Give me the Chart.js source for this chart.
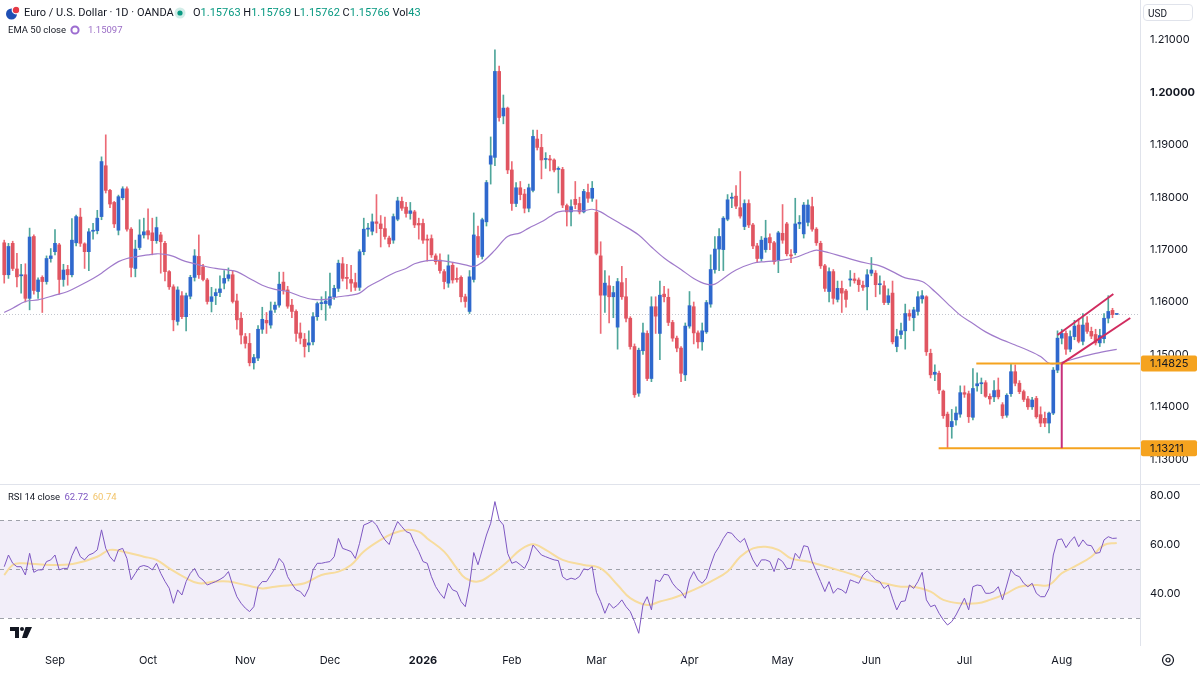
<!DOCTYPE html>
<html>
<head>
<meta charset="utf-8">
<title>Euro / U.S. Dollar · 1D · OANDA</title>
<script src="https://cdn.jsdelivr.net/npm/chart.js@4.4.1/dist/chart.umd.min.js"></script>
<style>
  html, body { margin: 0; padding: 0; background: #fff; }
  #frame { position: relative; width: 1200px; height: 675px; overflow: hidden; font-family: Roboto, "Noto Sans", sans-serif; color: #131722; }
  canvas { position: absolute; left: 0; }
  #priceCanvas { top: 0; }
  #rsiCanvas { top: 485px; }
  #divider { position: absolute; left: 0; top: 484px; width: 1200px; height: 1px; background: #e0e3eb; }
  .lbl { position: absolute; white-space: nowrap; font-size: 11px; line-height: 14px; }
  .small { font-size: 9.5px; }
  .k { color: #131722; }
  .v { color: #089981; }
  #usd { position: absolute; left: 1143px; top: 4px; width: 50px; height: 17px; border: 1px solid #e0e3eb; border-radius: 4px; font-size: 10px; line-height: 17px; padding-left: 4px; box-sizing: border-box; }
</style>
</head>
<body>
<div id="frame">
  <canvas id="priceCanvas" width="1200" height="484"></canvas>
  <canvas id="rsiCanvas" width="1200" height="190"></canvas>
  <div id="divider"></div>

  <svg style="position:absolute;left:5px;top:5px" width="16" height="16" viewBox="0 0 16 16">
    <circle cx="6.5" cy="9" r="5.5" fill="#1f4fb4"/>
    <circle cx="11" cy="5" r="3.8" fill="#e53945" stroke="#fff" stroke-width="1.2"/>
  </svg>
  <div class="lbl" style="left:24px;top:6px;">Euro / U.S. Dollar · 1D · OANDA</div>
  <svg style="position:absolute;left:174px;top:7px" width="12" height="12" viewBox="0 0 12 12">
    <circle cx="6" cy="6" r="5.5" fill="rgba(8,153,129,0.18)"/>
    <circle cx="6" cy="6" r="2.6" fill="#089981"/>
  </svg>
  <div class="lbl" style="left:193px;top:6px;"><span class="k">O</span><span class="v">1.15763</span> <span class="k">H</span><span class="v">1.15769</span> <span class="k">L</span><span class="v">1.15762</span> <span class="k">C</span><span class="v">1.15766</span> <span class="k">Vol</span><span class="v">43</span></div>
  <div class="lbl small" style="left:8px;top:23px;">EMA 50 close</div>
  <svg style="position:absolute;left:69px;top:24px" width="12" height="12" viewBox="0 0 12 12">
    <circle cx="6" cy="6" r="3.6" fill="none" stroke="#9c6cd0" stroke-width="2"/>
  </svg>
  <div class="lbl small" style="left:88px;top:23px;color:#9b6dc6;">1.15097</div>
  <div id="usd">USD</div>

  <div class="lbl small" style="left:8px;top:490px;">RSI 14 close <span style="color:#7e57c2;margin-left:2px;">62.72</span> <span style="color:#f2c46a;margin-left:2px;">60.74</span></div>

  <svg style="position:absolute;left:10px;top:627px" width="22" height="12" viewBox="0 0 22 12">
    <path d="M0 0h9v11H5V4H0z" fill="#131722"/>
    <circle cx="12" cy="2" r="2" fill="#131722"/>
    <path d="M15.5 0H22L17 11h-5z" fill="#131722"/>
  </svg>
  <svg style="position:absolute;left:1161px;top:653px" width="14" height="14" viewBox="0 0 14 14">
    <circle cx="7" cy="7" r="5.5" fill="none" stroke="#131722" stroke-width="1.2"/>
    <circle cx="7" cy="7" r="2" fill="none" stroke="#131722" stroke-width="1.2"/>
  </svg>
</div>

<script>
// EUR/USD daily candles, Aug 2025 - Aug 2026 (index 0 = first visible bar)
const opens = [
  1.1713,1.1652,1.1712,1.1663,1.1650,1.1652,1.1607,1.1725,1.1620,1.1647,
  1.1639,1.1683,1.1696,1.1709,1.1643,1.1662,1.1652,1.1713,1.1762,1.1711,
  1.1696,1.1735,1.1736,1.1763,1.1860,1.1813,1.1790,1.1737,1.1799,1.1816,
  1.1739,1.1664,1.1704,1.1728,1.1736,1.1732,1.1717,1.1728,1.1712,1.1658,
  1.1629,1.1563,1.1612,1.1572,1.1611,1.1647,1.1687,1.1667,1.1642,1.1601,
  1.1612,1.1618,1.1636,1.1645,1.1652,1.1602,1.1569,1.1534,1.1521,1.1484,
  1.1493,1.1548,1.1565,1.1556,1.1586,1.1594,1.1638,1.1623,1.1594,1.1582,
  1.1541,1.1529,1.1518,1.1524,1.1572,1.1597,1.1597,1.1594,1.1610,1.1626,
  1.1673,1.1647,1.1643,1.1637,1.1628,1.1696,1.1739,1.1735,1.1753,1.1749,
  1.1740,1.1722,1.1718,1.1758,1.1792,1.1781,1.1769,1.1772,1.1750,1.1750,
  1.1720,1.1721,1.1688,1.1680,1.1658,1.1636,1.1670,1.1645,1.1647,1.1610,
  1.1582,1.1643,1.1725,1.1687,1.1753,1.1863,1.1876,1.2040,1.1955,1.1970,
  1.1852,1.1788,1.1818,1.1806,1.1779,1.1813,1.1911,1.1895,1.1872,1.1873,
  1.1871,1.1853,1.1853,1.1784,1.1772,1.1796,1.1788,1.1772,1.1809,1.1798,
  1.1771,1.1688,1.1613,1.1631,1.1610,1.1552,1.1637,1.1610,1.1569,1.1515,
  1.1426,1.1507,1.1540,1.1454,1.1591,1.1540,1.1615,1.1609,1.1561,1.1531,
  1.1512,1.1461,1.1554,1.1591,1.1541,1.1524,1.1543,1.1596,1.1662,1.1701,
  1.1700,1.1758,1.1798,1.1802,1.1780,1.1744,1.1788,1.1747,1.1707,1.1683,
  1.1700,1.1723,1.1713,1.1680,1.1731,1.1749,1.1690,1.1694,1.1749,1.1730,
  1.1752,1.1782,1.1739,1.1712,1.1669,1.1620,1.1658,1.1605,1.1626,1.1621,
  1.1642,1.1644,1.1642,1.1632,1.1629,1.1655,1.1655,1.1633,1.1631,1.1599,
  1.1617,1.1515,1.1538,1.1545,1.1578,1.1570,1.1582,1.1606,1.1610,1.1502,
  1.1462,1.1464,1.1430,1.1386,1.1362,1.1375,1.1386,1.1427,1.1425,1.1380,
  1.1440,1.1444,1.1446,1.1420,1.1419,1.1432,1.1404,1.1384,1.1425,1.1467,
  1.1445,1.1429,1.1415,1.1400,1.1416,1.1385,1.1378,1.1369,1.1388,1.1470,
  1.1531,1.1540,1.1510,1.1534,1.1556,1.1525,1.1560,1.1544,1.1538,1.1522,
  1.1530,1.1569,1.1584,1.15763
];
const highs = [
  1.1718,1.1712,1.1716,1.1693,1.1672,1.1673,1.1741,1.1728,1.1646,1.1650,
  1.1688,1.1702,1.1738,1.1712,1.1672,1.1670,1.1759,1.1766,1.1779,1.1713,
  1.1740,1.1750,1.1775,1.1877,1.1919,1.1815,1.1792,1.1804,1.1820,1.1820,
  1.1742,1.1718,1.1757,1.1760,1.1778,1.1760,1.1762,1.1733,1.1716,1.1660,
  1.1633,1.1629,1.1620,1.1617,1.1651,1.1700,1.1728,1.1672,1.1645,1.1628,
  1.1625,1.1650,1.1660,1.1665,1.1660,1.1615,1.1580,1.1540,1.1540,1.1500,
  1.1555,1.1590,1.1580,1.1600,1.1600,1.1657,1.1657,1.1630,1.1605,1.1585,
  1.1560,1.1540,1.1545,1.1580,1.1600,1.1610,1.1620,1.1655,1.1632,1.1680,
  1.1685,1.1672,1.1670,1.1655,1.1700,1.1760,1.1750,1.1768,1.1805,1.1765,
  1.1762,1.1726,1.1768,1.1800,1.1800,1.1790,1.1790,1.1775,1.1760,1.1758,
  1.1728,1.1728,1.1692,1.1692,1.1662,1.1690,1.1675,1.1665,1.1650,1.1615,
  1.1660,1.1770,1.1745,1.1760,1.1832,1.1915,1.2081,1.2050,1.1995,1.1972,
  1.1868,1.1828,1.1830,1.1815,1.1825,1.1928,1.1928,1.1920,1.1885,1.1880,
  1.1873,1.1858,1.1857,1.1787,1.1795,1.1830,1.1800,1.1815,1.1825,1.1830,
  1.1795,1.1715,1.1660,1.1650,1.1630,1.1645,1.1668,1.1645,1.1572,1.1520,
  1.1512,1.1560,1.1545,1.1610,1.1610,1.1640,1.1630,1.1625,1.1565,1.1535,
  1.1515,1.1560,1.1620,1.1600,1.1545,1.1560,1.1603,1.1690,1.1725,1.1740,
  1.1763,1.1805,1.1808,1.1822,1.1849,1.1795,1.1795,1.1750,1.1712,1.1725,
  1.1756,1.1730,1.1716,1.1735,1.1786,1.1752,1.1700,1.1798,1.1765,1.1790,
  1.1795,1.1800,1.1742,1.1716,1.1672,1.1665,1.1662,1.1640,1.1640,1.1624,
  1.1660,1.1655,1.1646,1.1640,1.1662,1.1685,1.1660,1.1650,1.1640,1.1625,
  1.1640,1.1548,1.1560,1.1596,1.1585,1.1590,1.1620,1.1622,1.1612,1.1510,
  1.1480,1.1468,1.1432,1.1390,1.1395,1.1400,1.1440,1.1440,1.1430,1.1473,
  1.1465,1.1455,1.1450,1.1425,1.1450,1.1455,1.1408,1.1425,1.14825,1.1480,
  1.1450,1.1432,1.1420,1.1418,1.1420,1.1400,1.1390,1.1390,1.1475,1.1545,
  1.1548,1.1545,1.1545,1.1565,1.1568,1.1578,1.1572,1.1552,1.1548,1.1548,
  1.1578,1.1612,1.1588,1.15769
];
const lows = [
  1.1636,1.1645,1.1660,1.1629,1.1617,1.1600,1.1585,1.1615,1.1607,1.1580,
  1.1634,1.1676,1.1690,1.1615,1.1630,1.1632,1.1648,1.1707,1.1706,1.1664,
  1.1660,1.1720,1.1730,1.1757,1.1808,1.1780,1.1742,1.1728,1.1795,1.1735,
  1.1648,1.1648,1.1700,1.1722,1.1720,1.1690,1.1712,1.1655,1.1640,1.1624,
  1.1545,1.1556,1.1568,1.1545,1.1606,1.1640,1.1645,1.1640,1.1596,1.1581,
  1.1595,1.1610,1.1625,1.1640,1.1598,1.1548,1.1520,1.1512,1.1478,1.1472,
  1.1488,1.1540,1.1540,1.1550,1.1580,1.1590,1.1615,1.1588,1.1570,1.1525,
  1.1520,1.1495,1.1505,1.1518,1.1565,1.1585,1.1565,1.1588,1.1605,1.1620,
  1.1640,1.1625,1.1620,1.1622,1.1622,1.1690,1.1725,1.1728,1.1732,1.1705,
  1.1720,1.1705,1.1712,1.1755,1.1775,1.1762,1.1758,1.1742,1.1720,1.1712,
  1.1678,1.1685,1.1672,1.1655,1.1625,1.1628,1.1636,1.1638,1.1600,1.1590,
  1.1578,1.1638,1.1685,1.1682,1.1745,1.1825,1.1860,1.1945,1.1940,1.1845,
  1.1775,1.1782,1.1795,1.1770,1.1772,1.1810,1.1890,1.1835,1.1855,1.1850,
  1.1848,1.1808,1.1780,1.1745,1.1745,1.1778,1.1768,1.1770,1.1790,1.1792,
  1.1690,1.1540,1.1580,1.1560,1.1570,1.1510,1.1605,1.1562,1.1510,1.1418,
  1.1420,1.1500,1.1450,1.1448,1.1540,1.1490,1.1600,1.1555,1.1525,1.1505,
  1.1448,1.1450,1.1550,1.1520,1.1512,1.1508,1.1540,1.1590,1.1655,1.1660,
  1.1660,1.1755,1.1780,1.1778,1.1760,1.1738,1.1742,1.1702,1.1675,1.1678,
  1.1695,1.1700,1.1672,1.1656,1.1712,1.1688,1.1675,1.1690,1.1740,1.1722,
  1.1745,1.1735,1.1708,1.1664,1.1620,1.1600,1.1596,1.1600,1.1580,1.1590,
  1.1630,1.1636,1.1620,1.1622,1.1585,1.1650,1.1610,1.1615,1.1595,1.1595,
  1.1520,1.1505,1.1530,1.1510,1.1565,1.1545,1.1575,1.1598,1.1498,1.1455,
  1.1450,1.1425,1.1378,1.13211,1.1340,1.1365,1.1380,1.1418,1.1370,1.1375,
  1.1430,1.1425,1.1418,1.1405,1.1410,1.1415,1.1378,1.1380,1.1420,1.1440,
  1.1425,1.1410,1.1395,1.1395,1.1378,1.1362,1.1362,1.1350,1.1385,1.1465,
  1.1520,1.1500,1.1505,1.1528,1.1522,1.1518,1.1540,1.1530,1.1518,1.1515,
  1.1522,1.1560,1.1570,1.15762
];
const closes = [
  1.1652,1.1706,1.1664,1.1648,1.1652,1.1607,1.1724,1.1622,1.1642,1.1639,
  1.1683,1.1688,1.1712,1.1643,1.1661,1.1652,1.1718,1.1763,1.1712,1.1696,
  1.1734,1.1737,1.1760,1.1868,1.1813,1.1787,1.1749,1.1801,1.1816,1.1739,
  1.1666,1.1701,1.1728,1.1734,1.1728,1.1717,1.1742,1.1715,1.1658,1.1629,
  1.1566,1.1623,1.1572,1.1612,1.1647,1.1688,1.1652,1.1643,1.1601,1.1610,
  1.1618,1.1625,1.1645,1.1652,1.1601,1.1566,1.1537,1.1521,1.1484,1.1494,
  1.1548,1.1567,1.1560,1.1583,1.1594,1.1634,1.1623,1.1592,1.1582,1.1540,
  1.1531,1.1515,1.1522,1.1572,1.1597,1.1599,1.1602,1.1610,1.1626,1.1674,
  1.1645,1.1645,1.1636,1.1628,1.1696,1.1739,1.1741,1.1753,1.1750,1.1740,
  1.1725,1.1711,1.1763,1.1793,1.1779,1.1769,1.1774,1.1747,1.1747,1.1718,
  1.1718,1.1690,1.1677,1.1660,1.1639,1.1669,1.1642,1.1643,1.1610,1.1601,
  1.1648,1.1728,1.1690,1.1757,1.1828,1.1879,1.2040,1.1952,1.1970,1.1852,
  1.1788,1.1818,1.1805,1.1779,1.1818,1.1916,1.1895,1.1871,1.1873,1.1871,
  1.1852,1.1854,1.1785,1.1772,1.1782,1.1786,1.1772,1.1811,1.1798,1.1817,
  1.1693,1.1613,1.1636,1.1610,1.1618,1.1639,1.1610,1.1569,1.1515,1.1423,
  1.1508,1.1541,1.1454,1.1591,1.1573,1.1613,1.1610,1.1561,1.1531,1.1512,
  1.1464,1.1554,1.1593,1.1541,1.1524,1.1545,1.1599,1.1662,1.1701,1.1725,
  1.1760,1.1795,1.1800,1.1783,1.1764,1.1788,1.1747,1.1707,1.1683,1.1718,
  1.1722,1.1713,1.1677,1.1732,1.1718,1.1692,1.1688,1.1749,1.1752,1.1785,
  1.1785,1.1739,1.1713,1.1669,1.1626,1.1658,1.1607,1.1626,1.1617,1.1605,
  1.1644,1.1641,1.1633,1.1628,1.1652,1.1661,1.1633,1.1634,1.1599,1.1612,
  1.1524,1.1534,1.1545,1.1578,1.1573,1.1585,1.1610,1.1612,1.1505,1.1461,
  1.1466,1.1432,1.1383,1.1362,1.1372,1.1388,1.1427,1.1424,1.1381,1.1435,
  1.1444,1.1446,1.1420,1.1415,1.1431,1.1419,1.1383,1.1422,1.1467,1.1445,
  1.1429,1.1414,1.1400,1.1413,1.1381,1.1369,1.1369,1.1388,1.1470,1.1531,
  1.1540,1.1510,1.1534,1.1554,1.1525,1.1556,1.1544,1.1535,1.1522,1.1536,
  1.1569,1.1582,1.1576,1.15766
];

// EMA 50 at sample bars
const emaIdx = [0,2,5,8,12,15,18,21,23,25,27,29,31,34,36,38,40,42,44,46,
  50,53,55,58,61,64,67,70,73,76,79,82,84,86,89,92,95,97,100,103,
  105,109,111,113,116,119,122,124,127,129,131,134,137,139,141,143,146,150,153,156,
  160,163,166,168,170,173,177,180,184,187,190,192,195,198,201,204,207,210,213,217,
  220,223,226,229,232,235,239,242,245,247,249,251,254,258,263];
const emaVal = [1.1580,1.1588,1.1601,1.1604,1.1613,1.1620,1.1632,1.1645,1.1655,1.1667,
  1.1677,1.1683,1.1686,1.1690,1.1692,1.1691,1.1687,1.1680,1.1675,1.1671,
  1.1664,1.1661,1.1658,1.1645,1.1632,1.1624,1.1620,1.1611,1.1605,1.1605,
  1.1610,1.1613,1.1617,1.1629,1.1642,1.1655,1.1664,1.1673,1.1679,1.1679,
  1.1677,1.1671,1.1668,1.1676,1.1699,1.1725,1.1732,1.1741,1.1753,1.1763,
  1.1772,1.1774,1.1774,1.1777,1.1772,1.1762,1.1748,1.1728,1.1705,1.1684,
  1.1662,1.1645,1.1634,1.1634,1.1645,1.1661,1.1674,1.1677,1.1680,1.1685,
  1.1694,1.1699,1.1694,1.1687,1.1680,1.1674,1.1669,1.1658,1.1646,1.1639,
  1.1620,1.1597,1.1575,1.1559,1.1543,1.1531,1.1518,1.1508,1.1496,1.1483,
  1.1483,1.1487,1.1494,1.1502,1.15097];

// RSI 14, one value per bar
const rsiValues = [
  51.0,55.8,52.4,51.0,51.0,47.6,56.5,48.7,49.7,49.7,
  53.1,53.8,55.8,49.7,50.3,50.3,55.5,59.2,55.1,53.8,
  55.8,56.5,57.9,66.1,58.5,55.1,53.1,57.9,58.5,54.4,
  45.6,48.3,51.0,51.5,51.0,49.7,52.4,48.3,45.0,42.2,
  36.0,41.5,39.4,44.9,48.3,50.3,46.9,45.5,43.5,44.2,
  44.9,45.8,46.9,49.0,43.5,38.7,36.0,34.0,32.6,34.6,
  42.8,44.9,44.9,47.6,50.3,54.4,52.4,46.9,44.0,41.5,
  40.8,38.7,42.2,49.7,52.4,52.4,52.8,53.1,55.1,62.6,
  58.5,57.9,57.2,54.4,60.6,68.1,68.8,69.8,68.1,64.7,
  62.0,60.1,65.4,69.5,67.4,65.4,64.7,60.6,57.2,53.1,
  52.4,46.9,42.8,40.1,38.0,44.2,41.5,40.8,36.7,34.6,
  43.5,56.8,51.8,57.9,64.0,68.8,77.7,70.2,68.1,56.5,
  52.4,53.1,51.8,50.3,53.8,59.9,57.9,55.8,55.1,54.4,
  53.8,53.5,46.9,45.6,46.3,45.8,47.0,50.1,49.7,51.0,
  40.5,36.7,31.9,36.0,34.0,35.3,37.4,34.6,32.6,28.5,
  23.7,35.3,38.7,33.3,45.6,44.9,47.9,47.6,44.2,42.1,
  40.8,38.1,45.6,49.0,45.6,44.2,46.3,51.7,56.5,59.2,
  62.6,65.1,64.7,62.6,61.0,62.6,57.9,53.8,51.0,53.8,
  53.8,53.1,49.0,54.4,53.1,50.3,50.3,56.5,54.4,59.6,
  59.2,53.1,49.0,44.9,40.8,44.9,40.1,42.1,41.5,40.1,
  45.6,44.9,44.2,47.6,49.3,47.6,45.6,44.9,42.1,43.5,
  38.1,33.3,36.7,37.0,43.5,42.1,44.9,48.7,37.4,34.6,
  35.3,31.9,29.2,27.1,28.5,31.2,34.6,38.1,33.3,42.8,
  43.5,43.2,40.1,40.1,40.8,42.8,37.4,43.5,49.7,47.6,
  46.9,44.2,42.8,44.2,40.1,38.7,38.7,42.1,55.8,62.0,
  62.4,58.8,61.3,63.3,59.2,62.0,59.9,59.6,56.5,56.8,
  62.0,63.3,62.6,62.72
];

// RSI-based moving average read at sample bars
const maIdx = [0,2,4,8,13,17,22,25,28,33,36,39,43,46,50,53,57,61,64,68,
  71,75,79,82,85,89,92,95,98,100,104,107,109,112,115,119,122,125,128,132,
  137,141,145,148,152,155,159,163,167,171,174,177,180,183,186,190,193,197,201,204,
  208,212,215,219,222,226,230,233,237,240,244,247,250,253,257,260,263];
const maVal = [47.6,51.7,52.4,52.0,51.7,52.4,55.1,57.9,57.2,55.1,
  53.8,50.3,46.3,44.2,44.9,44.9,43.5,42.1,42.8,43.5,
  44.2,47.6,49.0,51.7,57.2,62.0,64.7,66.1,65.4,62.6,
  57.2,50.3,46.3,44.9,47.6,53.1,57.9,60.2,57.9,53.8,
  51.7,50.3,43.5,38.1,35.3,36.7,38.7,41.5,44.9,49.0,
  55.1,58.5,59.2,57.9,54.4,53.1,51.7,49.7,47.6,45.6,
  44.2,42.8,42.8,40.8,37.4,36.0,36.0,37.4,40.1,42.8,
  43.5,43.5,48.3,51.0,55.1,59.9,60.74];

// month labels on the time axis and the bar where each month starts
const monthNames = ['Sep','Oct','Nov','Dec','2026','Feb','Mar','Apr','May','Jun','Jul','Aug'];
const monthIdx = [12,34,57,77,99,120,140,162,184,205,227,250];

const priceTicks = [1.13,1.14,1.15,1.16,1.17,1.18,1.19,1.20,1.21];
const rsiTicks = [40,60,80];
const rsiBands = [70,50,30];

// drawn levels and trend lines (bar index, price)
const levelValues = [1.14825, 1.13211];
const levelStarts = [229.8, 220.9];
const channelUpper = [[249, 1.1537], [262.2, 1.16153]];
const channelLower = [[250, 1.14825], [266.2, 1.15695]];
const measureLine = [[250, 1.13211], [250, 1.14825]];

const X_MIN = -1, X_MAX = 268.5;
const UP = '#2f68cd', DOWN = '#e05561', UP_WICK = '#4fa69b', DOWN_WICK = '#ec6a75';
const ORANGE = '#f5a31f', CHANNEL = '#d12c5f', EMA_COLOR = '#a07bcb';
const FONT = 'Inter, "Noto Sans", sans-serif';
const TEXT = '#131722';

const isUp = i => closes[i] >= opens[i];
const pts = arr => arr.map(p => ({ x: p[0], y: p[1] }));

function fitRightAxis(scale) {
  scale.width = 60;
  scale.paddingTop = 0;
  scale.paddingBottom = 0;
}

const priceExtras = {
  id: 'priceExtras',
  beforeDatasetsDraw(chart) {
    const { ctx, chartArea } = chart;
    const y = Math.round(chart.scales.y.getPixelForValue(closes[closes.length - 1])) + 0.5;
    ctx.save();
    ctx.strokeStyle = '#c3c6ce';
    ctx.lineWidth = 1;
    ctx.setLineDash([1, 2]);
    ctx.beginPath();
    ctx.moveTo(chartArea.left, y);
    ctx.lineTo(chartArea.right, y);
    ctx.stroke();
    ctx.restore();
  },
  afterDraw(chart) {
    const { ctx, chartArea } = chart;
    ctx.save();
    levelValues.forEach(v => {
      const y = chart.scales.y.getPixelForValue(v);
      ctx.fillStyle = ORANGE;
      ctx.beginPath();
      ctx.roundRect(chartArea.right + 1, y - 8, 56, 16, 2);
      ctx.fill();
      ctx.fillStyle = TEXT;
      ctx.font = '11px ' + FONT;
      ctx.textBaseline = 'middle';
      ctx.fillText(v.toFixed(5), chartArea.right + 10, y + 0.5);
    });
    ctx.restore();
  }
};

new Chart(document.getElementById('priceCanvas'), {
  type: 'bar',
  data: {
    datasets: [
      { type: 'line', data: pts(channelUpper), borderColor: CHANNEL, borderWidth: 2, pointRadius: 0, order: 0 },
      { type: 'line', data: pts(channelLower), borderColor: CHANNEL, borderWidth: 2, pointRadius: 0, order: 0 },
      { type: 'line', data: pts(measureLine), borderColor: '#c8307a', borderWidth: 2, pointRadius: 0, order: 0 },
      ...levelValues.map((v, k) => ({
        type: 'line', data: [{ x: levelStarts[k], y: v }, { x: X_MAX, y: v }],
        borderColor: ORANGE, borderWidth: 2, pointRadius: 0, order: 0
      })),
      { type: 'line', data: emaIdx.map((x, k) => ({ x, y: emaVal[k] })), borderColor: EMA_COLOR,
        borderWidth: 1.2, pointRadius: 0, tension: 0.35, order: 1 },
      { type: 'bar', data: closes.map((c, i) => ({ x: i, y: [opens[i], c] })),
        backgroundColor: c => isUp(c.dataIndex) ? UP : DOWN,
        barThickness: 3, minBarLength: 1, grouped: false, borderWidth: 0, order: 2 },
      { type: 'bar', data: closes.map((c, i) => ({ x: i, y: [lows[i], highs[i]] })),
        backgroundColor: c => isUp(c.dataIndex) ? UP_WICK : DOWN_WICK,
        barThickness: 1, grouped: false, borderWidth: 0, order: 3 }
    ]
  },
  options: {
    responsive: false,
    animation: false,
    layout: { padding: 0 },
    plugins: { legend: { display: false }, tooltip: { enabled: false } },
    scales: {
      x: { type: 'linear', min: X_MIN, max: X_MAX, offset: false, display: false },
      y: {
        position: 'right', min: 1.12527, max: 1.21763,
        afterBuildTicks: a => { a.ticks = priceTicks.map(v => ({ value: v })); },
        afterFit: fitRightAxis,
        grid: { display: false, drawTicks: false },
        border: { color: '#e0e3eb' },
        ticks: {
          padding: 10, color: TEXT,
          font: c => ({ family: FONT, size: 11, weight: (c.tick && Math.abs(c.tick.value - 1.2) < 1e-9) ? 'bold' : 'normal' }),
          callback: v => v.toFixed(5)
        }
      }
    }
  },
  plugins: [priceExtras]
});

const rsiBand = {
  id: 'rsiBand',
  beforeDatasetsDraw(chart) {
    const { ctx, chartArea } = chart;
    const y = chart.scales.y;
    const top = y.getPixelForValue(rsiBands[0]);
    const bottom = y.getPixelForValue(rsiBands[2]);
    ctx.save();
    ctx.fillStyle = 'rgba(126, 87, 194, 0.1)';
    ctx.fillRect(chartArea.left, top, chartArea.right - chartArea.left, bottom - top);
    ctx.strokeStyle = '#9ea1aa';
    ctx.lineWidth = 1;
    ctx.setLineDash([4, 4]);
    rsiBands.forEach(v => {
      const py = Math.round(y.getPixelForValue(v)) + 0.5;
      ctx.beginPath();
      ctx.moveTo(chartArea.left, py);
      ctx.lineTo(chartArea.right, py);
      ctx.stroke();
    });
    ctx.restore();
  }
};

new Chart(document.getElementById('rsiCanvas'), {
  type: 'line',
  data: {
    datasets: [
      { data: rsiValues.map((y, i) => ({ x: i, y })), borderColor: '#7e57c2', borderWidth: 1, pointRadius: 0, tension: 0, order: 0 },
      { data: maIdx.map((x, k) => ({ x, y: maVal[k] })), borderColor: '#f7dc9e', borderWidth: 2, pointRadius: 0, tension: 0.4, order: 1 }
    ]
  },
  options: {
    responsive: false,
    animation: false,
    layout: { padding: 0 },
    plugins: { legend: { display: false }, tooltip: { enabled: false } },
    scales: {
      x: {
        type: 'linear', min: X_MIN, max: X_MAX, offset: false,
        afterBuildTicks: a => { a.ticks = monthIdx.map(v => ({ value: v })); },
        afterFit: s => { s.height = 30; s.paddingLeft = 0; s.paddingRight = 0; },
        grid: { display: false, drawTicks: false },
        border: { display: false },
        ticks: {
          autoSkip: false, maxRotation: 0, padding: 9, color: TEXT,
          font: c => ({ family: FONT, size: 11, weight: (c.tick && c.tick.value === 99) ? 'bold' : 'normal' }),
          callback: v => monthNames[monthIdx.indexOf(v)]
        }
      },
      y: {
        position: 'right', min: 18.9, max: 84.5,
        afterBuildTicks: a => { a.ticks = rsiTicks.map(v => ({ value: v })); },
        afterFit: fitRightAxis,
        grid: { display: false, drawTicks: false },
        border: { color: '#e0e3eb' },
        ticks: { padding: 10, color: TEXT, font: { family: FONT, size: 11 }, callback: v => v.toFixed(2) }
      }
    }
  },
  plugins: [rsiBand]
});
</script>
</body>
</html>
